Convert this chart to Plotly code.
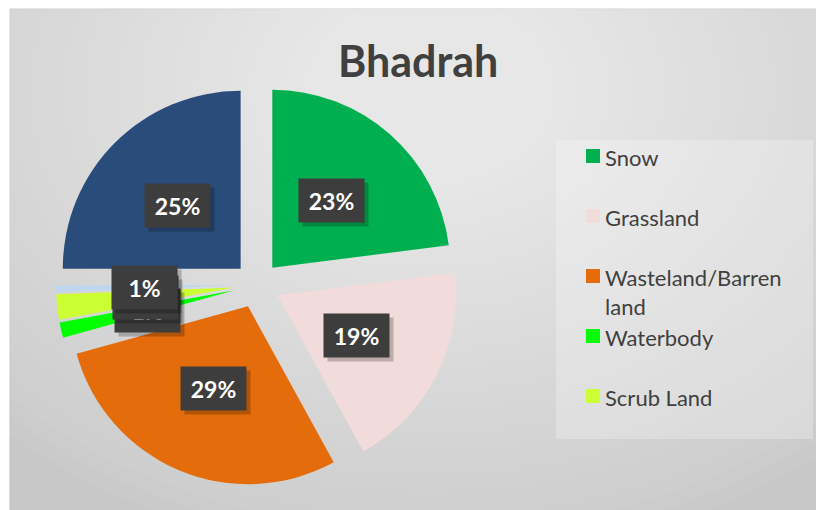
import math
import plotly.graph_objects as go

# ---- data ----
labels = ["Snow", "Grassland", "Wasteland/Barren land", "Waterbody", "Scrub Land", "Built-up", "Forest"]
values = [23.0, 19.0, 28.7, 1.4, 2.3, 0.6, 25.0]
colors = ["#00B050", "#F2DCDB", "#E46C0A", "#00FF00", "#CCFF33", "#BDD7EE", "#294C7A"]
legend_labels = ["Snow", "Grassland", "Wasteland/Barren<br>land", "Waterbody", "Scrub Land"]
legend_colors = colors[:5]
title_text = "Bhadrah"

W, H = 816, 510
PULL = 0.13
dom_x = [56 / W, 458 / W]
dom_y = [(H - 486) / H, (H - 84) / H]

fig = go.Figure(go.Pie(
    labels=labels, values=values, sort=False, direction="clockwise", rotation=0,
    marker=dict(colors=colors, line=dict(width=0)),
    pull=[PULL] * len(values), textinfo="none", showlegend=False,
    domain=dict(x=dom_x, y=dom_y), hoverinfo="label+percent",
))

# geometry mirroring plotly's pie scaling, for label boxes
box_w = (dom_x[1] - dom_x[0]) * W
box_h = (dom_y[1] - dom_y[0]) * H
r = min(box_w, box_h) / 2 / (1 + PULL)
cx = (dom_x[0] + dom_x[1]) / 2 * W
cy = H * (1 - (dom_y[0] + dom_y[1]) / 2)

shapes = []
# background
shapes.append(dict(type="rect", xref="paper", yref="paper", x0=10 / W, x1=1.01, y0=-0.01, y1=1 - 9 / H,
                   fillcolor="#c8c8c8", line=dict(color="#bdbdbd", width=1), layer="below"))
n = 34
for i in range(n):
    f = 1 - i / n
    rx, ry = 620 * f, 470 * f
    gx, gy = 430, 90
    shapes.append(dict(type="circle", xref="paper", yref="paper",
                       x0=(gx - rx) / W, x1=(gx + rx) / W, y0=1 - (gy + ry) / H, y1=1 - (gy - ry) / H,
                       fillcolor="rgba(255,255,255,0.038)", line=dict(width=0), layer="below"))
# legend box
shapes.append(dict(type="rect", xref="paper", yref="paper", x0=556 / W, x1=813 / W, y0=1 - 439 / H, y1=1 - 140 / H,
                   fillcolor="rgba(255,255,255,0.25)", line=dict(width=0), layer="below"))

annotations = [dict(text="<b>" + title_text + "</b>", x=418 / W, y=1 - 60 / H, xref="paper", yref="paper",
                    xanchor="center", yanchor="middle",
                    showarrow=False, font=dict(family="Lato", size=43, color="#404040"))]

# legend entries
leg_y = [156, 216, 276, 336, 396]
for lab, col, yy in zip(legend_labels, legend_colors, leg_y):
    shapes.append(dict(type="rect", xref="paper", yref="paper", x0=586 / W, x1=600 / W,
                       y0=1 - (yy + 7) / H, y1=1 - (yy - 7) / H, fillcolor=col, line=dict(width=0)))
    annotations.append(dict(text=lab, x=603 / W, y=1 - (yy - 14) / H, xref="paper", yref="paper",
                            xanchor="left", yanchor="top", align="left", showarrow=False,
                            font=dict(family="Lato", size=22, color="#404040")))

# data labels
total = sum(values)
cum = 0.0
for v in values:
    a0 = cum / total * 360
    cum += v
    a1 = cum / total * 360
    mid = math.radians((a0 + a1) / 2)
    dx, dy = math.sin(mid), -math.cos(mid)
    vx, vy = cx + PULL * r * dx, cy + PULL * r * dy
    lx, ly = vx + 0.5 * r * dx, vy + 0.5 * r * dy
    txt = "<b>{:.0f}%</b>".format(v / total * 100)
    annotations.append(dict(text="", x=(lx + 4) / W, y=1 - (ly + 4) / H, xref="paper", yref="paper",
                            xanchor="center", yanchor="middle",
                            showarrow=False, width=63, height=41, bgcolor="rgba(0,0,0,0.22)"))
    annotations.append(dict(text=txt, x=lx / W, y=1 - ly / H, xref="paper", yref="paper",
                            xanchor="center", yanchor="middle",
                            showarrow=False, width=63, height=41, bgcolor="#3d3d3d",
                            font=dict(family="Lato", size=23, color="white")))

fig.update_layout(width=W, height=H, margin=dict(l=0, r=0, t=0, b=0),
                  paper_bgcolor="white", shapes=shapes, annotations=annotations)
fig.write_html("out.html", config={"displayModeBar": False},
               post_script="document.body.style.margin='0';document.body.style.overflow='hidden';")
